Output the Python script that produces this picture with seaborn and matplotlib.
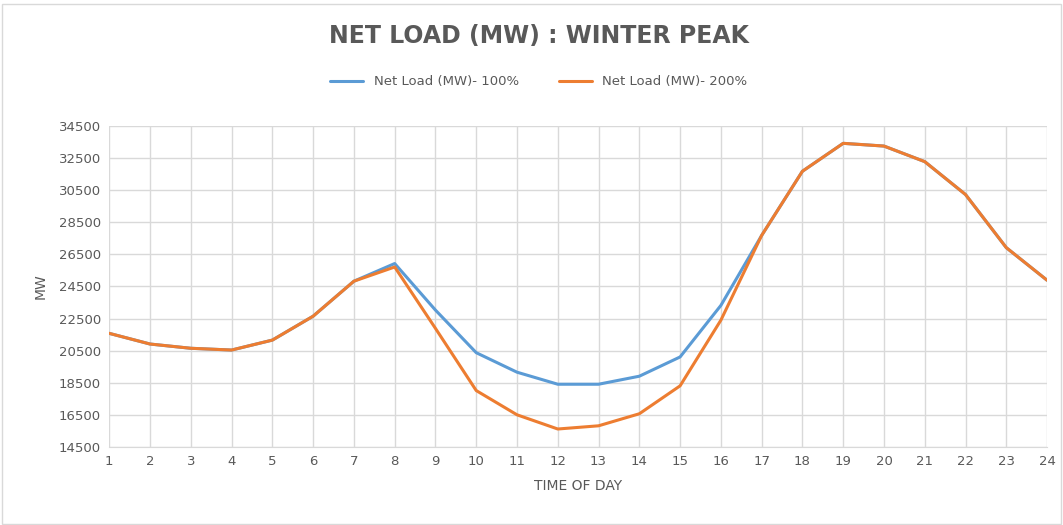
import numpy as np
import pandas as pd
import matplotlib
matplotlib.use('Agg')
import matplotlib.pyplot as plt
import seaborn as sns

# Data
hours = list(range(1, 25))
load_100 = [21580, 20915, 20650, 20540, 21160, 22650, 24830, 25930, 23030, 20375, 19160, 18410,
            18410, 18910, 20110, 23320, 27680, 31680, 33420, 33250, 32280, 30230, 26920, 24890]
load_200 = [21580, 20915, 20650, 20540, 21160, 22650, 24830, 25715, 21890, 18015, 16505, 15620,
            15820, 16570, 18310, 22400, 27680, 31680, 33420, 33250, 32280, 30230, 26920, 24890]
series_names = ['Net Load (MW)- 100%', 'Net Load (MW)- 200%']
y_ticks = list(range(14500, 34501, 2000))

df = pd.DataFrame({'Hour': hours * 2,
                   'MW': load_100 + load_200,
                   'Series': [series_names[0]] * 24 + [series_names[1]] * 24})

sns.set_style('white')
txt_col = '#595959'
grid_col = '#D9D9D9'

fig = plt.figure(figsize=(10.63, 5.25), dpi=100)
ax = fig.add_axes([0.1028, 0.1486, 0.985 - 0.1028, 0.76 - 0.1486])

sns.lineplot(data=df, x='Hour', y='MW', hue='Series', palette=['#5B9BD5', '#ED7D31'],
             linewidth=2.2, ax=ax, legend=False)

ax.set_xlim(1, 24)
ax.set_ylim(14500, 34500)
ax.set_xticks(hours)
ax.set_yticks(y_ticks)
ax.grid(True, color=grid_col, linewidth=1)
ax.set_axisbelow(True)
for s in ['top', 'right', 'left']:
    ax.spines[s].set_visible(False)
ax.spines['bottom'].set_color(grid_col)
ax.tick_params(length=0, labelsize=9.5, labelcolor=txt_col, pad=6)
ax.set_xlabel('TIME OF DAY', fontsize=10, color=txt_col, labelpad=8)
ax.set_ylabel('MW', fontsize=10, color=txt_col, labelpad=8)

fig.suptitle('NET LOAD (MW) : WINTER PEAK', x=0.507, y=0.955, fontsize=17,
             fontweight='bold', color=txt_col)

handles = [plt.Line2D([], [], color=c, linewidth=2.2) for c in ['#5B9BD5', '#ED7D31']]
fig.legend(handles, series_names, loc='center', bbox_to_anchor=(0.507, 0.844), ncol=2,
           frameon=False, fontsize=9.5, handlelength=2.5, columnspacing=3,
           labelcolor=txt_col)

fig.patches.append(plt.Rectangle((0.002, 0.002), 0.996, 0.99, transform=fig.transFigure,
                                 fill=False, edgecolor='#D9D9D9', linewidth=1))

fig.savefig('out.png', dpi=100)
